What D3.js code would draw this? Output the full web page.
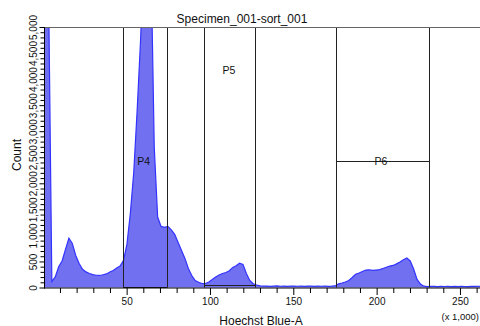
<!DOCTYPE html>
<html>
<head>
<meta charset="utf-8">
<script src="https://cdn.jsdelivr.net/npm/d3@7"></script>
<style>
  html, body { margin: 0; padding: 0; background: #fff; }
  svg { display: block; font-family: "Liberation Sans", Arial, sans-serif; }
</style>
</head>
<body>
<svg id="chart" width="480" height="326"></svg>
<script>
// ---- data ----
const title = "Specimen_001-sort_001";
const xLabel = "Hoechst Blue-A";
const yLabel = "Count";
const xScaleNote = "(x 1,000)";
const binWidth = 2.048; // x 1,000 units; 128 bins over 0..262.144
const counts = [
  9000, 6000, 115, 202, 398, 510, 731, 946, 846, 615,
  462, 350, 300, 269, 246, 235, 231, 244, 260, 298,
  327, 375, 413, 520, 827, 1423, 2211, 3400, 4750, 6500,
  7500, 6500, 2700, 1352, 1173, 1154, 1173, 1106, 1019, 865,
  711, 558, 365, 231, 135, 100, 77, 77, 106, 154,
  202, 240, 269, 288, 321, 385, 419, 467, 442, 269,
  135, 71, 48, 30, 25, 28, 22, 26, 30, 24,
  27, 22, 25, 28, 24, 26, 22, 27, 25, 23,
  28, 24, 26, 22, 25, 30, 71, 87, 106, 135,
  192, 254, 279, 308, 335, 340, 327, 335, 342, 365,
  388, 412, 423, 454, 490, 531, 567, 510, 356, 154,
  67, 25, 18, 22, 20, 17, 21, 19, 22, 18,
  20, 17, 21, 19, 18, 22, 20, 24
];
const xMajorTicks = [50, 100, 150, 200, 250];
const xMinorTicks = [10, 20, 30, 40, 60, 70, 80, 90, 110, 120, 130, 140, 160, 170, 180, 190, 210, 220, 230, 240, 260];
const yMajorTicks = [0, 500, 1000, 1500, 2000, 2500, 3000, 3500, 4000, 4500, 5000];
const yMinorTicks = [100,200,300,400,600,700,800,900,1100,1200,1300,1400,1600,1700,1800,1900,2100,2200,2300,2400,2600,2700,2800,2900,3100,3200,3300,3400,3600,3700,3800,3900,4100,4200,4300,4400,4600,4700,4800,4900];
// gates: name, x range (x1,000), horizontal level (count), label position
const gateNames = ["P4", "P5", "P6"];
const gateX0 = [48.0, 96.4, 175.6];
const gateX1 = [74.4, 127.0, 231.6];
const gateLevel = [5, 40, 2420];
const gateLabelX = [60.2, 111.4, 202.6];
const gateLabelY = [2420, 4180, 2420];

// ---- layout ----
const svg = d3.select("#chart");
const pLeft = 44, pRight = 480.2, pTop = 27, pBottom = 287.5;
const x = d3.scaleLinear().domain([0, 262.144]).range([43.3, pRight]);
const y = d3.scaleLinear().domain([0, 5000]).range([pBottom, pTop]);

svg.append("defs").append("clipPath").attr("id", "plot")
  .append("rect").attr("x", pLeft).attr("y", pTop).attr("width", 480 - pLeft).attr("height", pBottom - pTop + 1);

// histogram: counts drawn at bin centres, padded to the domain ends
const pts = [[0, counts[0]]]
  .concat(counts.map((c, i) => [(i + 0.5) * binWidth, c]))
  .concat([[counts.length * binWidth, counts[counts.length - 1]]]);
const area = d3.area().x(d => x(d[0])).y0(y(0)).y1(d => y(d[1]));
const line = d3.line().x(d => x(d[0])).y(d => y(d[1]));
const g = svg.append("g").attr("clip-path", "url(#plot)");
g.append("path").datum(pts).attr("d", area).attr("fill", "#7070f0");
g.append("path").datum(pts).attr("d", line).attr("fill", "none").attr("stroke", "#3333ff").attr("stroke-width", 1.2);

// gates
const gg = svg.append("g").attr("clip-path", "url(#plot)");
gateNames.forEach((n, i) => {
  const col = "#222";
  [gateX0[i], gateX1[i]].forEach(v => {
    gg.append("line").attr("x1", Math.round(x(v)) + 0.5).attr("x2", Math.round(x(v)) + 0.5)
      .attr("y1", pTop).attr("y2", pBottom).attr("stroke", col).attr("stroke-width", 1);
  });
  gg.append("line").attr("x1", x(gateX0[i])).attr("x2", x(gateX1[i]))
    .attr("y1", Math.round(y(gateLevel[i])) + 0.5).attr("y2", Math.round(y(gateLevel[i])) + 0.5)
    .attr("stroke", col).attr("stroke-width", 1);
  svg.append("text").attr("x", x(gateLabelX[i])).attr("y", y(gateLabelY[i]) + 4)
    .attr("text-anchor", "middle").attr("font-size", 10.5).attr("fill", "#111").text(n);
});

// top border
svg.append("line").attr("x1", pLeft).attr("x2", 480).attr("y1", pTop + 0.5).attr("y2", pTop + 0.5)
  .attr("stroke", "#666").attr("stroke-width", 1);

// x axis
const xAxisG = svg.append("g").attr("transform", `translate(0,${pBottom + 0.5})`);
xAxisG.append("g").call(d3.axisBottom(x).tickValues(xMinorTicks).tickSize(5).tickFormat("").tickSizeOuter(0))
  .call(a => a.select(".domain").remove());
xAxisG.append("g").call(d3.axisBottom(x).tickValues(xMajorTicks).tickSize(7).tickPadding(3).tickSizeOuter(0))
  .call(a => a.select(".domain").remove())
  .call(a => a.selectAll("text").attr("font-size", 10).attr("fill", "#111").attr("font-family", "Liberation Sans, Arial"));
xAxisG.append("line").attr("x1", pLeft).attr("x2", 480).attr("stroke", "#000");

// y axis
const yAxisG = svg.append("g").attr("transform", `translate(${pLeft + 0.5},0)`);
yAxisG.append("g").call(d3.axisLeft(y).tickValues(yMinorTicks).tickSize(4).tickFormat("").tickSizeOuter(0))
  .call(a => a.select(".domain").remove());
yAxisG.append("g").call(d3.axisLeft(y).tickValues(yMajorTicks).tickSize(5).tickFormat(d3.format(",")).tickSizeOuter(0))
  .call(a => a.select(".domain").remove())
  .call(a => a.selectAll("text")
    .attr("transform", "rotate(-90)").attr("x", 0).attr("y", -8).attr("dy", 0)
    .attr("text-anchor", "middle").attr("font-size", 10).attr("fill", "#111")
    .attr("font-family", "Liberation Sans, Arial"));
yAxisG.append("line").attr("y1", pTop).attr("y2", pBottom + 1).attr("stroke", "#000");

// labels
svg.append("text").attr("x", 242).attr("y", 22.5).attr("text-anchor", "middle")
  .attr("font-size", 12).attr("fill", "#111").text(title);
svg.append("text").attr("x", 261).attr("y", 324.5).attr("text-anchor", "middle")
  .attr("font-size", 12).attr("fill", "#111").text(xLabel);
svg.append("text").attr("x", 479).attr("y", 320).attr("text-anchor", "end")
  .attr("font-size", 9.5).attr("fill", "#111").text(xScaleNote);
svg.append("text").attr("transform", `translate(21,155) rotate(-90)`).attr("text-anchor", "middle")
  .attr("font-size", 12).attr("fill", "#111").text(yLabel);
</script>
</body>
</html>
